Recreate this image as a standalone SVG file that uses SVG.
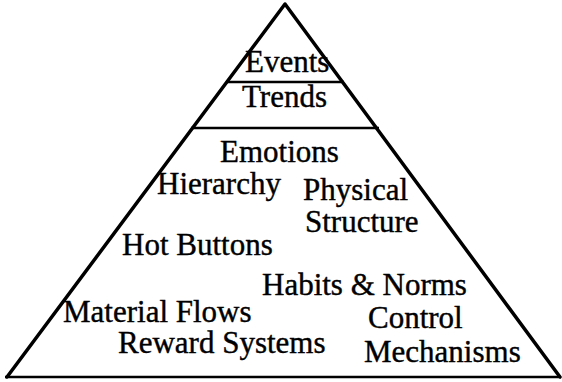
<svg xmlns="http://www.w3.org/2000/svg" width="562" height="382" viewBox="0 0 562 382">
  <style>
    .edge { fill: none; stroke: #000; stroke-width: 3.5; stroke-linejoin: round; stroke-linecap: round; }
    .tier { stroke: #000; stroke-width: 2.5; }
    .lbl { font-family: "Liberation Serif", "Times New Roman", serif; font-size: 31px; fill: #000; stroke: #000; stroke-width: 0.4; }
  </style>
  <rect width="562" height="382" fill="#fff"/>

  <!-- pyramid outline and tier dividers -->
  <g id="connectors">
    <polyline class="edge" points="7,377 285,4 560,377"/>
    <line class="tier" x1="5" y1="377" x2="561" y2="377"/>
    <line class="tier" x1="226" y1="82" x2="344" y2="82"/>
    <line class="tier" x1="191" y1="128" x2="379" y2="128"/>
  </g>

  <g id="events"><text class="lbl" x="245" y="72">Events</text></g>
  <g id="trends"><text class="lbl" x="242" y="107">Trends</text></g>
  <g id="emotions"><text class="lbl" x="220" y="162">Emotions</text></g>
  <g id="hierarchy"><text class="lbl" x="157" y="194">Hierarchy</text></g>
  <g id="physical-structure">
    <text class="lbl" x="303" y="200">Physical</text>
    <text class="lbl" x="305" y="232">Structure</text>
  </g>
  <g id="hot-buttons"><text class="lbl" x="122" y="255">Hot Buttons</text></g>
  <g id="habits-norms"><text class="lbl" x="262" y="295">Habits &amp; Norms</text></g>
  <g id="material-flows"><text class="lbl" x="63" y="322">Material Flows</text></g>
  <g id="control-mechanisms">
    <text class="lbl" x="368" y="328">Control</text>
    <text class="lbl" x="364" y="362">Mechanisms</text>
  </g>
  <g id="reward-systems"><text class="lbl" x="118" y="353">Reward Systems</text></g>
</svg>
